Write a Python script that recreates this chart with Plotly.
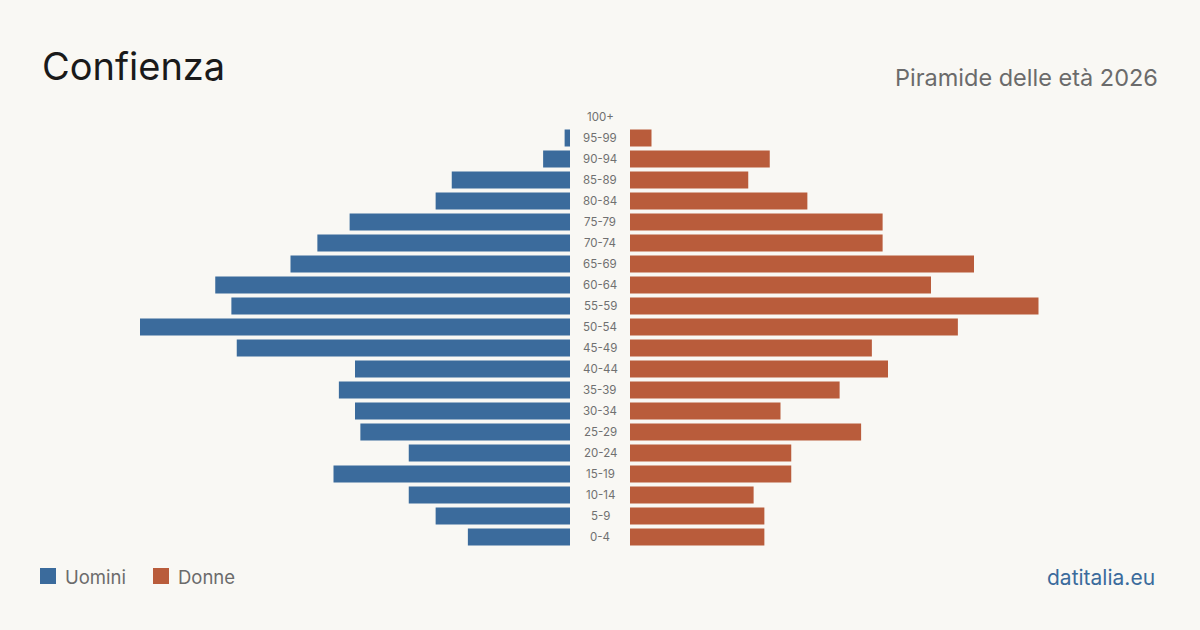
import plotly.graph_objects as go

age_groups = ["0-4", "5-9", "10-14", "15-19", "20-24", "25-29", "30-34", "35-39", "40-44",
              "45-49", "50-54", "55-59", "60-64", "65-69", "70-74", "75-79", "80-84",
              "85-89", "90-94", "95-99", "100+"]
males = [19, 25, 30, 44, 30, 39, 40, 43, 40, 62, 80, 63, 66, 52, 47, 41, 25, 22, 5, 1, 0]
females = [25, 25, 23, 30, 30, 43, 28, 39, 48, 45, 61, 76, 56, 64, 47, 47, 33, 22, 26, 4, 0]

title = "Confienza"
subtitle = "Piramide delle età 2026"
source = "datitalia.eu"
legend_names = ["Uomini", "Donne"]

W, H = 1200, 630
BG = "#f9f8f4"
BLUE = "#3b6b9c"
RED = "#b95c3b"
FONT = "Inter, Liberation Sans, sans-serif"

vmax = max(max(males), max(females))

fig = go.Figure()
fig.add_trace(go.Bar(y=age_groups, x=males, orientation="h", marker=dict(color=BLUE, line=dict(width=0)),
                     xaxis="x", yaxis="y", name=legend_names[0], showlegend=False,
                     hoverinfo="x+y"))
fig.add_trace(go.Bar(y=age_groups, x=females, orientation="h", marker=dict(color=RED, line=dict(width=0)),
                     xaxis="x2", yaxis="y", name=legend_names[1], showlegend=False,
                     hoverinfo="x+y"))

y_top, y_bot = 106.5, 547.5
annotations = []
for g in age_groups:
    annotations.append(dict(x=0.5, xref="paper", y=g, yref="y", text=g, showarrow=False,
                            font=dict(size=11.5, color="#707070", family=FONT),
                            xanchor="center", yanchor="middle"))

annotations += [
    dict(x=40 / W, y=1 - 66 / H, xref="paper", yref="paper", text=title, showarrow=False,
         xanchor="left", yanchor="middle", font=dict(size=38, color="#1a1a1a", family=FONT)),
    dict(x=1160 / W, y=1 - 77 / H, xref="paper", yref="paper", text=subtitle, showarrow=False,
         xanchor="right", yanchor="middle", font=dict(size=23.5, color="#6b6b6b", family=FONT)),
    dict(x=63 / W, y=1 - 577 / H, xref="paper", yref="paper", text=legend_names[0], showarrow=False,
         xanchor="left", yanchor="middle", font=dict(size=18.5, color="#6b6b6b", family=FONT)),
    dict(x=176 / W, y=1 - 577 / H, xref="paper", yref="paper", text=legend_names[1], showarrow=False,
         xanchor="left", yanchor="middle", font=dict(size=18.5, color="#6b6b6b", family=FONT)),
    dict(x=1157 / W, y=1 - 577 / H, xref="paper", yref="paper", text=source, showarrow=False,
         xanchor="right", yanchor="middle", font=dict(size=21, color=BLUE, family=FONT)),
]

shapes = [
    dict(type="rect", xref="paper", yref="paper", x0=40 / W, x1=56 / W,
         y0=1 - 584 / H, y1=1 - 568 / H, fillcolor=BLUE, line=dict(width=0)),
    dict(type="rect", xref="paper", yref="paper", x0=153 / W, x1=169 / W,
         y0=1 - 584 / H, y1=1 - 568 / H, fillcolor=RED, line=dict(width=0)),
]

fig.update_layout(
    width=W, height=H,
    margin=dict(l=0, r=0, t=0, b=0),
    paper_bgcolor=BG, plot_bgcolor=BG,
    bargap=0.19,
    xaxis=dict(domain=[140 / W, 570 / W], range=[vmax, 0], visible=False, fixedrange=True),
    xaxis2=dict(domain=[630 / W, 1060 / W], range=[0, vmax], visible=False, fixedrange=True),
    yaxis=dict(domain=[1 - y_bot / H, 1 - y_top / H], range=[-0.5, len(age_groups) - 0.5],
               visible=False, type="category", categoryorder="array", categoryarray=age_groups),
    annotations=annotations,
    shapes=shapes,
    font=dict(family=FONT),
)

fig.write_html("out.html")
